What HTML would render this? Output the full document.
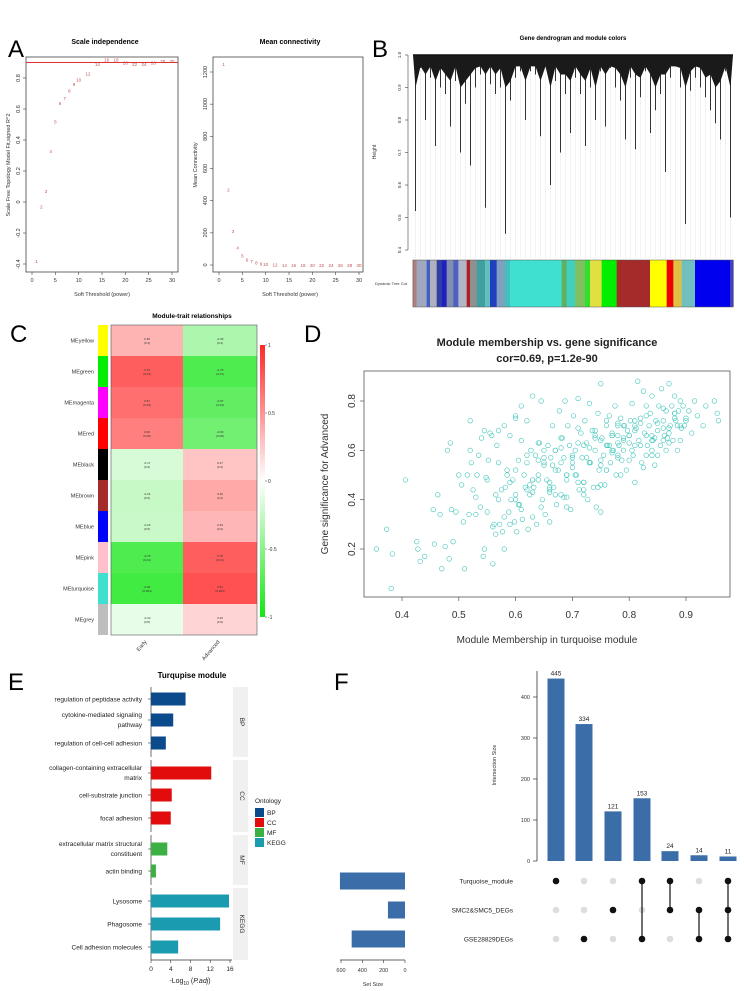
<!DOCTYPE html>
<html><head><meta charset="utf-8"><style>
body{margin:0;background:#fff;}
svg{display:block;font-family:"Liberation Sans",sans-serif;}
</style></head><body>
<svg id="fig" width="744" height="991" viewBox="0 0 744 991" xmlns="http://www.w3.org/2000/svg">
<g id="labels" font-size="24" fill="#000">
<text x="8" y="57">A</text>
<text x="372" y="57">B</text>
<text x="10" y="342">C</text>
<text x="304" y="342">D</text>
<text x="8" y="690">E</text>
<text x="334" y="690">F</text>
</g>
</svg>
<script>
// ---------- Panel A data ----------
const powers=[1,2,3,4,5,6,7,8,9,10,12,14,16,18,20,22,24,26,28,30];
const sftR2=[-0.38,-0.03,0.07,0.33,0.52,0.64,0.67,0.72,0.76,0.79,0.83,0.89,0.92,0.92,0.90,0.89,0.89,0.90,0.91,0.91];
const meanK=[1250,470,210,110,60,35,25,15,8,5,3,1,1,1,1,1,1,1,1,1];
const r2Ticks=[-0.4,-0.2,0,0.2,0.4,0.6,0.8];
const kTicks=[0,200,400,600,800,1000,1200];
const powerTicks=[0,5,10,15,20,25,30];
// ---------- Panel B data ----------
const treeDips=[0.52,0.96,0.8,0.93,0.72,0.9,0.88,0.78,0.92,0.7,0.85,0.66,0.9,0.94,0.53,0.91,0.88,0.9,0.45,0.86,0.93,0.95,0.8,0.95,0.94,0.75,0.97,0.6,0.92,0.7,0.88,0.76,0.93,0.88,0.72,0.9,0.8,0.95,0.78,0.96,0.9,0.86,0.74,0.93,0.71,0.87,0.95,0.76,0.83,0.88,0.64,0.93,0.97,0.9,0.48,0.89,0.93,0.9,0.87,0.83,0.79,0.74,0.95,0.5];
const heightTicks=[0.4,0.5,0.6,0.7,0.8,0.9,1.0];
const moduleStops=[128,140,170,180,200,215,230,250,265,290,300,320,345,360,380,405,420,575,590,615,645,660,695,740,840,890,910,935,975,1080,1090];
const moduleColors=['#b08080','#a0a8c0','#4060c0','#b0b0c0','#3040a0','#2020c0','#8090b0','#5060c0','#b0b8c8','#b02020','#909090','#40a0a0','#60c0c0','#2040c0','#80a0c0','#40c0c0','#40e0d0','#60b060','#40d0c0','#80c060','#30e030','#e0e040','#00ee00','#a52a2a','#ffff00','#ee0000','#e0c040','#70c0c0','#0000ee','#4040c0'];
// ---------- Panel C data ----------
const modules=['MEyellow','MEgreen','MEmagenta','MEred','MEblack','MEbrown','MEblue','MEpink','MEturquoise','MEgrey'];
const modColors=['#ffff00','#00ee00','#ff00ff','#ff0000','#000000','#a52a2a','#0000ff','#ffc0cb','#40e0d0','#bebebe'];
const corEarly=[0.35,0.75,0.67,0.6,-0.17,-0.24,-0.23,-0.75,-0.81,-0.1];
const corAdv=[-0.35,-0.75,-0.67,-0.6,0.27,0.4,0.34,0.75,0.81,0.2];
const pEarly=['0.3','0.01','0.03','0.05','0.6','0.5','0.5','0.01','0.004','0.8'];
const pAdv=['0.3','0.01','0.03','0.05','0.4','0.2','0.3','0.01','0.004','0.5'];
const traits=['Early','Advanced'];
const cbTicks=[1,0.5,0,-0.5,-1];
// ---------- Panel D data ----------
const mmX=[0.355,0.373,0.381,0.383,0.406,0.426,0.428,0.432,0.44,0.455,0.457,0.463,0.467,0.47,0.476,0.48,0.483,0.485,0.487,0.49,0.495,0.5,0.505,0.508,0.51,0.515,0.518,0.52,0.522,0.525,0.53,0.532,0.535,0.538,0.54,0.543,0.545,0.548,0.55,0.552,0.555,0.558,0.56,0.562,0.565,0.567,0.57,0.572,0.575,0.577,0.58,0.582,0.585,0.588,0.59,0.592,0.595,0.598,0.6,0.602,0.605,0.607,0.61,0.612,0.615,0.617,0.62,0.622,0.625,0.627,0.63,0.632,0.635,0.637,0.64,0.642,0.645,0.647,0.65,0.652,0.655,0.657,0.66,0.662,0.665,0.667,0.67,0.672,0.675,0.677,0.68,0.682,0.685,0.687,0.69,0.692,0.695,0.697,0.7,0.702,0.705,0.707,0.71,0.712,0.715,0.717,0.72,0.722,0.725,0.727,0.73,0.732,0.735,0.737,0.74,0.742,0.745,0.747,0.75,0.752,0.755,0.757,0.76,0.762,0.765,0.767,0.77,0.772,0.775,0.777,0.78,0.782,0.785,0.787,0.79,0.792,0.795,0.797,0.8,0.802,0.805,0.807,0.81,0.812,0.815,0.817,0.82,0.822,0.825,0.827,0.83,0.832,0.835,0.837,0.84,0.842,0.845,0.847,0.85,0.852,0.855,0.857,0.86,0.862,0.865,0.867,0.87,0.872,0.875,0.877,0.88,0.882,0.885,0.887,0.89,0.892,0.895,0.897,0.9,0.905,0.91,0.915,0.92,0.93,0.935,0.95,0.955,0.957,0.6,0.62,0.65,0.68,0.7,0.72,0.74,0.76,0.78,0.8,0.64,0.66,0.69,0.71,0.73,0.75,0.77,0.79,0.81,0.83,0.57,0.59,0.63,0.67,0.75,0.76,0.77,0.78,0.84,0.86,0.88,0.89,
0.52,0.53,0.55,0.56,0.57,0.58,0.59,0.6,0.61,0.62,0.63,0.64,0.65,0.66,0.67,0.68,0.69,0.7,0.71,0.72,0.73,0.74,0.75,0.76,0.77,0.78,0.79,0.8,0.81,0.82,0.83,0.84,0.85,0.86,0.87,0.88,
0.545,0.565,0.585,0.605,0.625,0.645,0.665,0.685,0.705,0.725,0.745,0.765,0.785,0.805,0.825,0.845,0.865,0.885,0.61,0.63,0.65,0.67,0.69,0.71,0.73,0.75,0.77,0.79,0.81,0.83,0.85,0.87,
0.6,0.62,0.64,0.66,0.68,0.7,0.72,0.74,0.76,0.78,0.8,0.82,0.84,0.86,0.88,0.9,0.58,0.6,0.63,0.66,0.69,0.72,0.75,0.78,0.81,0.84,0.87,0.89];
const gsY=[0.2,0.28,0.04,0.18,0.48,0.23,0.2,0.15,0.17,0.36,0.22,0.42,0.34,0.12,0.21,0.6,0.16,0.63,0.36,0.23,0.35,0.5,0.46,0.31,0.12,0.5,0.34,0.6,0.55,0.44,0.41,0.5,0.58,0.37,0.65,0.17,0.2,0.49,0.35,0.56,0.67,0.66,0.14,0.3,0.26,0.62,0.55,0.3,0.44,0.27,0.2,0.45,0.5,0.35,0.66,0.4,0.48,0.31,0.42,0.27,0.56,0.38,0.64,0.32,0.5,0.45,0.72,0.28,0.42,0.6,0.82,0.45,0.58,0.3,0.5,0.63,0.8,0.4,0.55,0.34,0.48,0.62,0.31,0.57,0.7,0.45,0.6,0.38,0.52,0.76,0.42,0.65,0.57,0.8,0.48,0.7,0.62,0.36,0.55,0.74,0.6,0.5,0.81,0.44,0.67,0.57,0.47,0.72,0.63,0.4,0.79,0.55,0.68,0.45,0.6,0.37,0.75,0.52,0.87,0.65,0.58,0.46,0.7,0.62,0.74,0.55,0.66,0.6,0.78,0.5,0.71,0.62,0.73,0.56,0.65,0.7,0.52,0.68,0.63,0.72,0.79,0.58,0.47,0.69,0.88,0.64,0.73,0.55,0.84,0.67,0.78,0.62,0.7,0.75,0.82,0.64,0.54,0.72,0.68,0.78,0.62,0.85,0.72,0.66,0.76,0.65,0.87,0.7,0.78,0.64,0.82,0.72,0.6,0.76,0.8,0.69,0.78,0.7,0.73,0.76,0.67,0.8,0.74,0.7,0.78,0.8,0.75,0.72,0.73,0.58,0.6,0.55,0.57,0.62,0.65,0.52,0.58,0.66,0.63,0.45,0.5,0.47,0.55,0.56,0.6,0.64,0.7,0.58,0.68,0.3,0.48,0.42,0.35,0.52,0.66,0.7,0.6,0.64,0.75,0.7,0.72,
0.34,0.48,0.29,0.4,0.33,0.47,0.52,0.36,0.55,0.43,0.48,0.57,0.44,0.52,0.65,0.41,0.58,0.69,0.47,0.61,0.66,0.54,0.72,0.59,0.63,0.7,0.56,0.68,0.62,0.74,0.66,0.71,0.77,0.69,0.73,0.68,
0.42,0.52,0.38,0.46,0.37,0.54,0.41,0.5,0.57,0.45,0.62,0.5,0.6,0.53,0.65,0.6,0.7,0.78,0.48,0.54,0.6,0.5,0.63,0.55,0.64,0.67,0.6,0.72,0.66,0.58,0.63,0.74,
0.44,0.56,0.47,0.61,0.53,0.44,0.68,0.62,0.57,0.66,0.71,0.64,0.69,0.75,0.72,0.7,0.4,0.33,0.43,0.37,0.42,0.46,0.66,0.62,0.58,0.67,0.64,0.81];
const mmTicks=[0.4,0.5,0.6,0.7,0.8,0.9];
const gsTicks=[0.2,0.4,0.6,0.8];
// ---------- Panel E data ----------
const terms=['regulation of peptidase activity','cytokine-mediated signaling|pathway','regulation of cell-cell adhesion','collagen-containing extracellular|matrix','cell-substrate junction','focal adhesion','extracellular matrix structural|constituent','actin binding','Lysosome','Phagosome','Cell adhesion molecules'];
const termOnt=['BP','BP','BP','CC','CC','CC','MF','MF','KEGG','KEGG','KEGG'];
const logP=[7,4.5,3,12.2,4.2,4,3.3,1,15.8,14,5.5];
const ontologies=['BP','CC','MF','KEGG'];
const ontColors=['#0b4a8b','#e30c0c','#3cb043','#1a9bb0'];
const logPTicks=[0,4,8,12,16];
// ---------- Panel F data ----------
const setNames=['Turquoise_module','SMC2&SMC5_DEGs','GSE28829DEGs'];
const setSizes=[610,160,500];
const interSizes=[445,334,121,153,24,14,11];
const interSets=[[0],[2],[1],[0,2],[0,1],[1,2],[0,1,2]];
const interTicks=[0,100,200,300,400];
const setTicks=[600,400,200,0];

const NS='http://www.w3.org/2000/svg';
const svg=document.getElementById('fig');
function mk(tag,attrs,parent,txt){const e=document.createElementNS(NS,tag);for(const k in attrs)e.setAttribute(k,attrs[k]);if(txt!==undefined)e.textContent=txt;(parent||svg).appendChild(e);return e;}
function lin(d0,d1,r0,r1){return v=>r0+(v-d0)*(r1-r0)/(d1-d0);}

// ===== Panel A left =====
{const g=mk('g',{});
const X=lin(0,30,32,172),Y=lin(-0.4,0.8,264,78);
mk('rect',{x:26,y:57,width:152,height:215,fill:'none',stroke:'#444','stroke-width':0.8},g);
mk('text',{x:105,y:44,'font-size':7,'font-weight':'bold','text-anchor':'middle'},g,'Scale independence');
mk('line',{x1:26,x2:178,y1:Y(0.9),y2:Y(0.9),stroke:'#e03030','stroke-width':1},g);
powerTicks.forEach(t=>{mk('line',{x1:X(t),x2:X(t),y1:272,y2:275,stroke:'#444','stroke-width':0.6},g);mk('text',{x:X(t),y:282,'font-size':5.5,'text-anchor':'middle',fill:'#333'},g,t);});
r2Ticks.forEach(t=>{mk('line',{x1:23,x2:26,y1:Y(t),y2:Y(t),stroke:'#444','stroke-width':0.6},g);mk('text',{x:20,y:Y(t),'font-size':5.5,'text-anchor':'middle',fill:'#333',transform:`rotate(-90 20 ${Y(t)})`},g,t);});
mk('text',{x:102,y:296,'font-size':5.5,'text-anchor':'middle',fill:'#333'},g,'Soft Threshold (power)');
mk('text',{x:10,y:165,'font-size':5.5,'text-anchor':'middle',fill:'#333',transform:'rotate(-90 10 165)'},g,'Scale Free Topology Model Fit,signed R^2');
powers.forEach((p,i)=>{const t=mk('text',{x:X(p),y:Y(sftR2[i])+2,'font-size':4.5,'text-anchor':'middle',fill:'#c05050'},g,p);});}

// ===== Panel A right =====
{const g=mk('g',{});
const X=lin(0,30,219,359),Y=lin(0,1200,265,72);
mk('rect',{x:213,y:57,width:150,height:215,fill:'none',stroke:'#444','stroke-width':0.8},g);
mk('text',{x:290,y:44,'font-size':7,'font-weight':'bold','text-anchor':'middle'},g,'Mean connectivity');
powerTicks.forEach(t=>{mk('line',{x1:X(t),x2:X(t),y1:272,y2:275,stroke:'#444','stroke-width':0.6},g);mk('text',{x:X(t),y:282,'font-size':5.5,'text-anchor':'middle',fill:'#333'},g,t);});
kTicks.forEach(t=>{mk('line',{x1:210,x2:213,y1:Y(t),y2:Y(t),stroke:'#444','stroke-width':0.6},g);mk('text',{x:207,y:Y(t),'font-size':5.5,'text-anchor':'middle',fill:'#333',transform:`rotate(-90 207 ${Y(t)})`},g,t);});
mk('text',{x:290,y:296,'font-size':5.5,'text-anchor':'middle',fill:'#333'},g,'Soft Threshold (power)');
mk('text',{x:197,y:165,'font-size':5.5,'text-anchor':'middle',fill:'#333',transform:'rotate(-90 197 165)'},g,'Mean Connectivity');
powers.forEach((p,i)=>{const t=mk('text',{x:X(p),y:Y(meanK[i])+2,'font-size':4.5,'text-anchor':'middle',fill:'#c05050'},g,p);});}

// ===== Panel B =====
{const g=mk('g',{});
const Y=lin(0.4,1.0,250,55);const x0=413,x1=733;
mk('text',{x:573,y:40,'font-size':6,'font-weight':'bold','text-anchor':'middle'},g,'Gene dendrogram and module colors');
mk('line',{x1:408,x2:408,y1:Y(0.4),y2:Y(1.0),stroke:'#444','stroke-width':0.6},g);
heightTicks.forEach(t=>{mk('line',{x1:405,x2:408,y1:Y(t),y2:Y(t),stroke:'#444','stroke-width':0.6},g);mk('text',{x:401,y:Y(t),'font-size':4.5,'text-anchor':'middle',fill:'#333',transform:`rotate(-90 401 ${Y(t)})`},g,t.toFixed(1));});
mk('text',{x:376,y:152,'font-size':5,'text-anchor':'middle',fill:'#333',transform:'rotate(-90 376 152)'},g,'Height');
const n=treeDips.length,step=(x1-x0)/n;
treeDips.forEach((d,i)=>{const x=x0+step*(i+0.5);mk('line',{x1:x,x2:x,y1:Y(0.97),y2:258,stroke:'#c8c8c8','stroke-width':0.5,'stroke-dasharray':'1,1'},g);const l=mk('line',{x1:x,x2:x,y1:Y(0.98),y2:Y(d),stroke:'#333','stroke-width':1},g);});
let pts=`${x0},${Y(1.0)} `;treeDips.forEach((d,i)=>{const x=x0+step*(i+0.5);const h=Math.min(0.965,Math.max(d+0.06,0.9+0.04*(i%3)/2));pts+=`${x},${Y(h)} `;});pts+=`${x1},${Y(1.0)}`;
mk('polygon',{points:pts,fill:'#1a1a1a'},g);
mk('line',{x1:x0,x2:x1,y1:Y(1.0),y2:Y(1.0),stroke:'#111','stroke-width':1.5},g);
for(let i=0;i<moduleColors.length;i++){const a=370+moduleStops[i]/3,b=370+moduleStops[i+1]/3;const r=mk('rect',{x:a,y:260,width:b-a+0.3,height:47,fill:moduleColors[i]},g);}
mk('rect',{x:x0,y:260,width:x1-x0,height:47,fill:'none',stroke:'#555','stroke-width':0.5},g);
mk('text',{x:391,y:285,'font-size':4,'text-anchor':'middle',fill:'#333'},g,'Dynamic Tree Cut');}

// ===== Panel C =====
{const g=mk('g',{});
const top=325,rh=31,cx=[111,183],cw=[72,74];
function col(v){const a=Math.abs(v);if(v>=0){return `rgb(${255},${Math.round(255-(255-40)*a)},${Math.round(255-(255-40)*a)})`;}return `rgb(${Math.round(255-(255-20)*a)},${Math.round(255-(255-230)*a)},${Math.round(255-(255-20)*a)})`;}
mk('text',{x:192,y:318,'font-size':6.5,'font-weight':'bold','text-anchor':'middle'},g,'Module-trait relationships');
modules.forEach((m,i)=>{const y=top+rh*i;
mk('rect',{x:98,y:y,width:10,height:rh,fill:modColors[i]},g);
mk('text',{x:94,y:y+rh/2+2,'font-size':5.5,'text-anchor':'end',fill:'#333'},g,m);
[corEarly[i],corAdv[i]].forEach((v,j)=>{const c=mk('rect',{x:cx[j],y:y,width:cw[j],height:rh,fill:col(v)},g);
mk('text',{x:cx[j]+cw[j]/2,y:y+rh/2-0.5,'font-size':3,'text-anchor':'middle',fill:'#333'},g,v.toFixed(2));
mk('text',{x:cx[j]+cw[j]/2,y:y+rh/2+3.5,'font-size':3,'text-anchor':'middle',fill:'#333'},g,'('+(j?pAdv[i]:pEarly[i])+')');});});
mk('rect',{x:111,y:top,width:146,height:rh*10,fill:'none',stroke:'#555','stroke-width':0.6},g);
traits.forEach((t,j)=>{const x=cx[j]+cw[j]/2;mk('text',{x:x,y:642,'font-size':5.5,'text-anchor':'end',fill:'#333',transform:`rotate(-50 ${x} 642)`},g,t);});
const CY=lin(-1,1,617,345);
const grad=mk('linearGradient',{id:'cbg',x1:0,y1:1,x2:0,y2:0},mk('defs',{},g));
mk('stop',{offset:'0',  'stop-color':col(-1)},grad);mk('stop',{offset:'0.5','stop-color':'#fff'},grad);mk('stop',{offset:'1','stop-color':col(1)},grad);
mk('rect',{x:260,y:345,width:5,height:272,fill:'url(#cbg)'},g);
cbTicks.forEach(t=>{mk('line',{x1:265,x2:267,y1:CY(t),y2:CY(t),stroke:'#444','stroke-width':0.5},g);mk('text',{x:268,y:CY(t)+2,'font-size':5,fill:'#333'},g,t);});}

// ===== Panel D =====
{const g=mk('g',{});
const X=lin(0.4,0.9,402,686),Y=lin(0.2,0.8,549,401);
mk('text',{x:547,y:346,'font-size':11,'font-weight':'bold','text-anchor':'middle',fill:'#222'},g,'Module membership vs. gene significance');
mk('text',{x:547,y:362,'font-size':11,'font-weight':'bold','text-anchor':'middle',fill:'#222'},g,'cor=0.69, p=1.2e-90');
mk('rect',{x:364,y:371,width:366,height:226,fill:'none',stroke:'#555','stroke-width':0.8},g);
mmTicks.forEach(t=>{mk('line',{x1:X(t),x2:X(t),y1:597,y2:601,stroke:'#555','stroke-width':0.7},g);mk('text',{x:X(t),y:618,'font-size':10,'text-anchor':'middle',fill:'#333'},g,t.toFixed(1));});
gsTicks.forEach(t=>{mk('line',{x1:360,x2:364,y1:Y(t),y2:Y(t),stroke:'#555','stroke-width':0.7},g);mk('text',{x:355,y:Y(t),'font-size':10,'text-anchor':'middle',fill:'#333',transform:`rotate(-90 355 ${Y(t)})`},g,t.toFixed(1));});
mk('text',{x:547,y:643,'font-size':10,'text-anchor':'middle',fill:'#333'},g,'Module Membership in turquoise module');
mk('text',{x:328,y:484,'font-size':10,'text-anchor':'middle',fill:'#333',transform:'rotate(-90 328 484)'},g,'Gene significance for Advanced');
mmX.forEach((v,i)=>{const c=mk('circle',{cx:X(v),cy:Y(gsY[i]),r:2.3,fill:'none',stroke:'#3cc4b8','stroke-width':0.6},g);});}

// ===== Panel E =====
{const g=mk('g',{});
const X=lin(0,16,151,230);
const rowY=[699,720,743,773,795,818,849,871,901,924,947];
const facets=[[687,757,'BP'],[760,832,'CC'],[835,885,'MF'],[888,960,'KEGG']];
mk('text',{x:192,y:678,'font-size':8,'font-weight':'bold','text-anchor':'middle'},g,'Turqupise module');
facets.forEach(f=>{mk('rect',{x:233,y:f[0],width:15,height:f[1]-f[0],fill:'#f0f0f0'},g);mk('text',{x:240,y:(f[0]+f[1])/2,'font-size':6.5,'text-anchor':'middle',fill:'#333',transform:`rotate(90 240 ${(f[0]+f[1])/2})`},g,f[2]);mk('line',{x1:151,x2:151,y1:f[0],y2:f[1],stroke:'#333','stroke-width':0.7},g);});
terms.forEach((t,i)=>{const c=ontColors[ontologies.indexOf(termOnt[i])];const b=mk('rect',{x:151,y:rowY[i]-6.5,width:X(logP[i])-151,height:13,fill:c},g);
mk('line',{x1:148,x2:151,y1:rowY[i],y2:rowY[i],stroke:'#333','stroke-width':0.6},g);
const parts=t.split('|');if(parts.length===1)mk('text',{x:142,y:rowY[i]+2.5,'font-size':6.5,'text-anchor':'end',fill:'#222'},g,parts[0]);else{mk('text',{x:142,y:rowY[i]-3,'font-size':6.5,'text-anchor':'end',fill:'#222'},g,parts[0]);mk('text',{x:142,y:rowY[i]+7,'font-size':6.5,'text-anchor':'end',fill:'#222'},g,parts[1]);}});
mk('line',{x1:151,x2:232,y1:960,y2:960,stroke:'#333','stroke-width':0.7},g);
logPTicks.forEach(t=>{mk('line',{x1:X(t),x2:X(t),y1:960,y2:963,stroke:'#333','stroke-width':0.6},g);mk('text',{x:X(t),y:971,'font-size':6.5,'text-anchor':'middle',fill:'#222'},g,t);});
const xl=mk('text',{x:190,y:983,'font-size':7,'text-anchor':'middle',fill:'#222'},g,'-Log');mk('tspan',{'font-size':5,dy:2},xl,'10');mk('tspan',{dy:-2},xl,' (');mk('tspan',{'font-style':'italic'},xl,'P.adj');mk('tspan',{},xl,')');
mk('text',{x:255,y:803,'font-size':6.5,fill:'#222'},g,'Ontology');
ontologies.forEach((o,i)=>{const y=808+i*10;const s=mk('rect',{x:255,y:y,width:9,height:9,fill:ontColors[i]},g);mk('text',{x:267,y:y+7,'font-size':6.5,fill:'#222'},g,o);});}

// ===== Panel F =====
{const g=mk('g',{});
const Y=lin(0,400,861,697);const bx=[556,584,613,642,670,699,728];const rows=[881,910,939];
mk('line',{x1:537,x2:537,y1:671,y2:861,stroke:'#333','stroke-width':0.8},g);
interTicks.forEach(t=>{mk('line',{x1:533,x2:537,y1:Y(t),y2:Y(t),stroke:'#333','stroke-width':0.7},g);mk('text',{x:530,y:Y(t)+2,'font-size':5.5,'text-anchor':'end',fill:'#333'},g,t);});
mk('text',{x:496,y:765,'font-size':5.5,'text-anchor':'middle',fill:'#333',transform:'rotate(-90 496 765)'},g,'Intersection Size');
interSizes.forEach((v,i)=>{const b=mk('rect',{x:bx[i]-8.5,y:Y(v),width:17,height:861-Y(v),fill:'#3b6ea8'},g);mk('text',{x:bx[i],y:Y(v)-3,'font-size':6.5,'text-anchor':'middle',fill:'#222'},g,v);});
interSets.forEach((s,i)=>{rows.forEach((y,r)=>{mk('circle',{cx:bx[i],cy:y,r:3.3,fill:s.includes(r)?'#111':'#ddd'},g);});if(s.length>1){const ys=s.map(r=>rows[r]);mk('line',{x1:bx[i],x2:bx[i],y1:Math.min(...ys),y2:Math.max(...ys),stroke:'#111','stroke-width':1.2},g);}});
const SX=lin(0,600,405,341);
setNames.forEach((n,r)=>{const b=mk('rect',{x:SX(setSizes[r]),y:rows[r]-8.5,width:405-SX(setSizes[r]),height:17,fill:'#3b6ea8'},g);mk('text',{x:513,y:rows[r]+2.5,'font-size':6.5,'text-anchor':'end',fill:'#222'},g,n);});
mk('line',{x1:340,x2:405,y1:960,y2:960,stroke:'#333','stroke-width':0.7},g);
setTicks.forEach(t=>{mk('line',{x1:SX(t),x2:SX(t),y1:960,y2:963,stroke:'#333','stroke-width':0.6},g);mk('text',{x:SX(t),y:972,'font-size':5.5,'text-anchor':'middle',fill:'#333'},g,t);});
mk('text',{x:373,y:986,'font-size':5.5,'text-anchor':'middle',fill:'#333'},g,'Set Size');}
</script>
</body></html>
